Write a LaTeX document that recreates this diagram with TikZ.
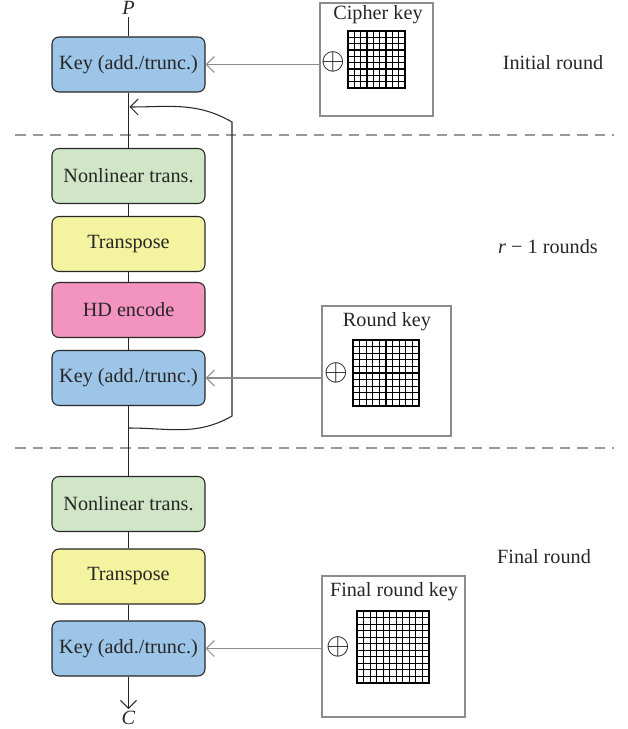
\documentclass[tikz,border=0pt]{standalone}
\usepackage{fontspec}
\setmainfont{Liberation Serif}
\usetikzlibrary{arrows.meta}

\definecolor{keyblue}{HTML}{9DC5E8}
\definecolor{nlgreen}{HTML}{D0E6C6}
\definecolor{tpyellow}{HTML}{F3F3A0}
\definecolor{hdpink}{HTML}{F294BF}

% grid of a key: left, top, side, cells
\newcommand{\keygrid}[4]{%
  \foreach \i in {0,...,#4}{%
    \draw[gridline] (#1+\i*#3/#4,#2) -- ++(0,#3);
    \draw[gridline] (#1,#2+\i*#3/#4) -- ++(#3,0);
  }
  \draw[semithick] (#1,#2) rectangle ++(#3,#3);
}

\begin{document}
\begin{tikzpicture}[x=0.02cm,y=-0.02cm,
  font=\fontsize{11.5}{13}\selectfont,
  stage/.style={draw=black!85,semithick,rounded corners=4pt,minimum width=3.06cm,minimum height=1.1cm,inner xsep=1pt,text=black!85},
  keysrc/.style={draw=black!45,semithick},
  gridline/.style={black,line width=0.6pt},
  xorsign/.style={inner sep=0pt,font=\fontsize{16}{16}\selectfont},
  keyarrow/.style={draw=black!45,semithick,-{Straight Barb[length=1.6mm,width=3.2mm]}},
  flow/.style={black!85,semithick},
  sep/.style={draw=black!40,semithick,dash pattern=on 6pt off 4pt}]
\useasboundingbox (0,0) rectangle (627,729);

% stages
\node[stage,fill=keyblue] (keyA) at (128.5,64.5) {Key (add./trunc.)};
\node[stage,fill=nlgreen] (nlA) at (128.5,176) {Nonlinear trans.};
\node[stage,fill=tpyellow] (tpA) at (128.5,244) {Transpose};
\node[stage,fill=hdpink] (hd) at (128.5,310) {HD encode};
\node[stage,fill=keyblue] (keyB) at (128.5,378) {Key (add./trunc.)};
\node[stage,fill=nlgreen] (nlB) at (128.5,504) {Nonlinear trans.};
\node[stage,fill=tpyellow] (tpB) at (128.5,576.5) {Transpose};
\node[stage,fill=keyblue] (keyC) at (128.5,648.5) {Key (add./trunc.)};

\node[text=black!85,inner sep=1pt] (plain) at (128.5,8) {\textit{P}};
\node[text=black!85,inner sep=1pt] (cipher) at (128.5,718) {\textit{C}};

% key sources
\node[keysrc,minimum width=2.26cm,minimum height=2.26cm] (ckey) at (376.5,59.5) {};
\node[text=black!85] (ckeylab) at (378,15) {Cipher key};
\node[xorsign] (cplus) at (333,62) {$\oplus$};
\keygrid{348}{31}{57}{9}

\node[keysrc,minimum width=2.58cm,minimum height=2.6cm] (rkey) at (386.5,371) {};
\node[text=black!85] (rkeylab) at (387,322) {Round key};
\node[xorsign] (rplus) at (336,373) {$\oplus$};
\keygrid{353}{340}{66}{10}

\node[keysrc,minimum width=2.86cm,minimum height=2.82cm] (fkey) at (393.5,646.5) {};
\node[text=black!85] (fkeylab) at (394,592) {Final round key};
\node[xorsign] (fplus) at (338,647) {$\oplus$};
\keygrid{357}{611}{72}{11}

% round names
\node[text=black!85] (initlab) at (553,63) {Initial round};
\node[text=black!85] (midlab) at (548,247) {\textit{r} − 1 rounds};
\node[text=black!85] (finlab) at (544,557) {Final round};

% separators
\coordinate (sepAl) at (15,135);
\coordinate (sepAr) at (614,135);
\coordinate (sepBl) at (15,448);
\coordinate (sepBr) at (614,448);
\draw[sep] (sepAl) -- (sepAr);
\draw[sep] (sepBl) -- (sepBr);

% data path
\draw[flow] (plain) -- (keyA);
\draw[flow] (keyA) -- (nlA);
\draw[flow] (nlA) -- (tpA);
\draw[flow] (tpA) -- (hd);
\draw[flow] (hd) -- (keyB);
\draw[flow] (keyB) -- (nlB);
\draw[flow] (nlB) -- (tpB);
\draw[flow] (tpB) -- (keyC);
\draw[flow,-{Straight Barb[length=1.6mm,width=3.2mm]}] (keyC) -- (cipher);

% loop back
\coordinate (loopout) at (128.5,428);
\coordinate (loopin) at (129.5,107);
\draw[flow,-{Straight Barb[length=1.6mm,width=3.2mm]}] (loopout) to[out=0,in=210] (232,416) -- (232,122) to[out=150,in=0] (loopin);

% key inputs
\draw[keyarrow] (ckey.west |- keyA.east) -- (keyA.east);
\draw[keyarrow] (rkey.west |- keyB.east) -- (keyB.east);
\draw[keyarrow] (fkey.west |- keyC.east) -- (keyC.east);

\end{tikzpicture}
\end{document}
